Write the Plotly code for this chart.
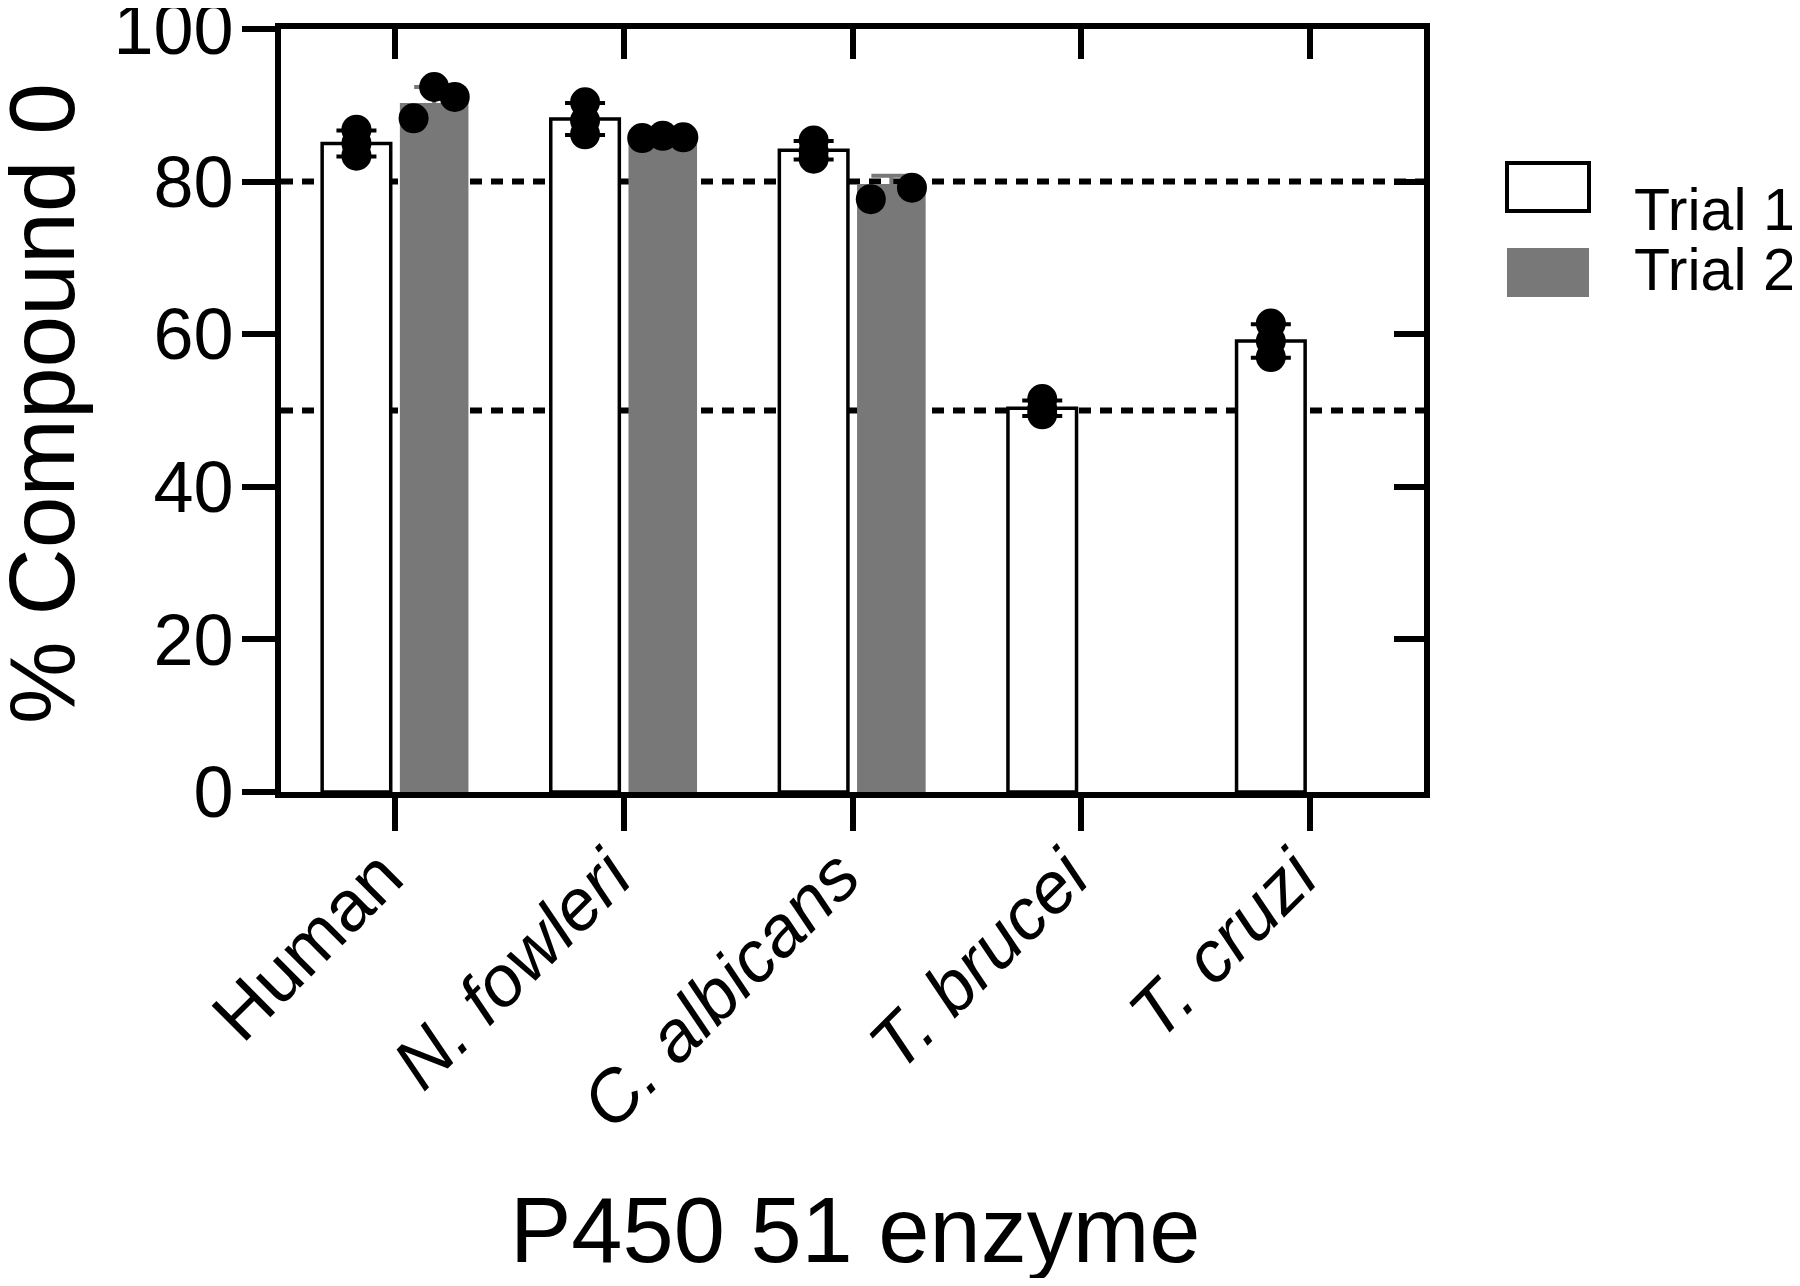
import numpy as np
import plotly.graph_objects as go

# ---------------- data ----------------
categories = ["Human", "N. fowleri", "C. albicans", "T. brucei", "T. cruzi"]
italic_flags = [False, True, True, True, True]

trial1_bar = [85.0, 88.2, 84.1, 50.3, 59.1]
trial2_bar = [90.3, 85.8, 79.7]

trial1_points = [
    [86.8, 85.0, 83.4],
    [90.4, 88.0, 86.2],
    [85.4, 84.0, 83.0],
    [51.5, 50.2, 49.5],
    [61.4, 59.1, 57.0],
]
trial2_points = [
    [88.3, 92.4, 91.1],
    [85.7, 86.0, 85.8],
    [77.7, 79.2],
]

threshold_lines = [80, 50]
y_ticks = [0, 20, 40, 60, 80, 100]
legend_labels = ["Trial 1", "Trial 2"]
x_title = "P450 51 enzyme"
y_title = "% Compound 0"

# ---------------- style / layout ----------------
WIN_W, WIN_H = 1800, 1286
PAGE = 8                      # browser body margin
W, H = WIN_W - 2 * PAGE, WIN_H - 2 * PAGE
# plot-area edges in window pixels
L, R, T, B = 281, 1424, 29, 792
GRAY = "#787878"
FONT = "Liberation Sans, Arial, Helvetica, sans-serif"
LW = 6
OFF1, OFF2, BW = -0.17, 0.17, 0.30
SPREAD = 0.09


def px_x(px):
    return (px - L) / (R - L)


def px_y(py):
    return (B - py) / (B - T)


def sd(v):
    return float(np.std(v, ddof=1)) if len(v) > 1 else 0.0


idx1 = list(range(len(categories)))
idx2 = list(range(len(trial2_bar)))

fig = go.Figure()

fig.add_trace(go.Bar(
    x=[i + OFF1 for i in idx1], y=trial1_bar, width=BW,
    marker=dict(color="white", line=dict(color="black", width=3.5)),
    error_y=dict(type="data", array=[sd(p) for p in trial1_points],
                 color="black", thickness=4, width=20),
    showlegend=False, hoverinfo="skip",
))
fig.add_trace(go.Bar(
    x=[i + OFF2 for i in idx2], y=trial2_bar, width=BW,
    marker=dict(color=GRAY, line=dict(color=GRAY, width=0)),
    error_y=dict(type="data", array=[sd(p) for p in trial2_points],
                 color=GRAY, thickness=4, width=20),
    showlegend=False, hoverinfo="skip",
))

# replicate points
px1, py1 = [], []
for i, pts in zip(idx1, trial1_points):
    for v in pts:
        px1.append(i + OFF1)
        py1.append(v)
px2, py2 = [], []
for i, pts in zip(idx2, trial2_points):
    n = len(pts)
    offs = [0.0] if n == 1 else list(np.linspace(-SPREAD, SPREAD, n))
    for o, v in zip(offs, pts):
        px2.append(i + OFF2 + o)
        py2.append(v)

for xs, ys in [(px1, py1), (px2, py2)]:
    fig.add_trace(go.Scatter(
        x=xs, y=ys, mode="markers",
        marker=dict(color="black", size=30, line=dict(width=0)),
        showlegend=False, hoverinfo="skip", cliponaxis=False,
    ))

# threshold dotted lines
for yv in threshold_lines:
    fig.add_shape(type="line", xref="paper", yref="y", x0=0, x1=1, y0=yv, y1=yv,
                  line=dict(color="black", width=6, dash="12px,9px"), layer="below")

# hidden trace to activate mirror axes
fig.add_trace(go.Scatter(x=[None], y=[None], xaxis="x2", yaxis="y2",
                         showlegend=False, hoverinfo="skip"))

ticktext = [f"<i>{c}</i>" if it else c for c, it in zip(categories, italic_flags)]

fig.update_layout(
    width=W, height=H,
    margin=dict(l=L - PAGE, r=W - (R - PAGE), t=T - PAGE, b=H - (B - PAGE),
                pad=0, autoexpand=False),
    plot_bgcolor="white", paper_bgcolor="white",
    font=dict(family=FONT, color="black"),
    barmode="overlay",
    xaxis=dict(
        range=[-0.5, 4.5], tickvals=idx1, ticktext=ticktext, tickangle=-45,
        ticks="outside", ticklen=33, tickwidth=LW, tickcolor="black",
        showline=True, linewidth=LW, linecolor="black",
        showgrid=False, zeroline=False, automargin=False,
        tickfont=dict(size=72, family=FONT, color="black"),
        ticklabelstandoff=-26, ticklabelshift=-14,
        ticklabeloverflow="allow",
    ),
    yaxis=dict(
        range=[0, 100], tickvals=y_ticks,
        ticks="outside", ticklen=33, tickwidth=LW, tickcolor="black",
        showline=True, linewidth=LW, linecolor="black",
        showgrid=False, zeroline=False, automargin=False,
        tickfont=dict(size=72, family=FONT, color="black"),
        ticklabelstandoff=-6, ticklabeloverflow="allow",
    ),
    xaxis2=dict(
        overlaying="x", side="top", range=[-0.5, 4.5], tickvals=idx1,
        ticks="inside", ticklen=30, tickwidth=LW, tickcolor="black",
        showticklabels=False, showline=True, linewidth=LW, linecolor="black",
        showgrid=False, zeroline=False, automargin=False,
    ),
    yaxis2=dict(
        overlaying="y", side="right", range=[0, 100], tickvals=y_ticks,
        ticks="inside", ticklen=30, tickwidth=LW, tickcolor="black",
        showticklabels=False, showline=True, linewidth=LW, linecolor="black",
        showgrid=False, zeroline=False, automargin=False,
    ),
)

# axis titles
fig.add_annotation(text=x_title, xref="paper", yref="paper",
                   x=px_x(855), y=px_y(1230), showarrow=False,
                   font=dict(size=92, family=FONT, color="black"),
                   xanchor="center", yanchor="middle")
fig.add_annotation(text=y_title, xref="paper", yref="paper",
                   x=px_x(42), y=px_y(404), showarrow=False, textangle=-90,
                   font=dict(size=93, family=FONT, color="black"),
                   xanchor="center", yanchor="middle")

# legend (drawn)
legend_boxes = [(163, 211, "white", "black"), (248, 297, GRAY, GRAY)]
legend_text_y = [210, 270]
for (y0, y1, fill, edge), lab, ty in zip(legend_boxes, legend_labels, legend_text_y):
    fig.add_shape(type="rect", xref="paper", yref="paper",
                  x0=px_x(1507), x1=px_x(1589), y0=px_y(y1), y1=px_y(y0),
                  fillcolor=fill, line=dict(color=edge, width=4 if edge == "black" else 0))
    fig.add_annotation(text=lab, xref="paper", yref="paper",
                       x=px_x(1632), y=px_y(ty), showarrow=False,
                       xanchor="left", yanchor="middle",
                       font=dict(size=59, family=FONT, color="black"))

fig.write_html("out.html")
